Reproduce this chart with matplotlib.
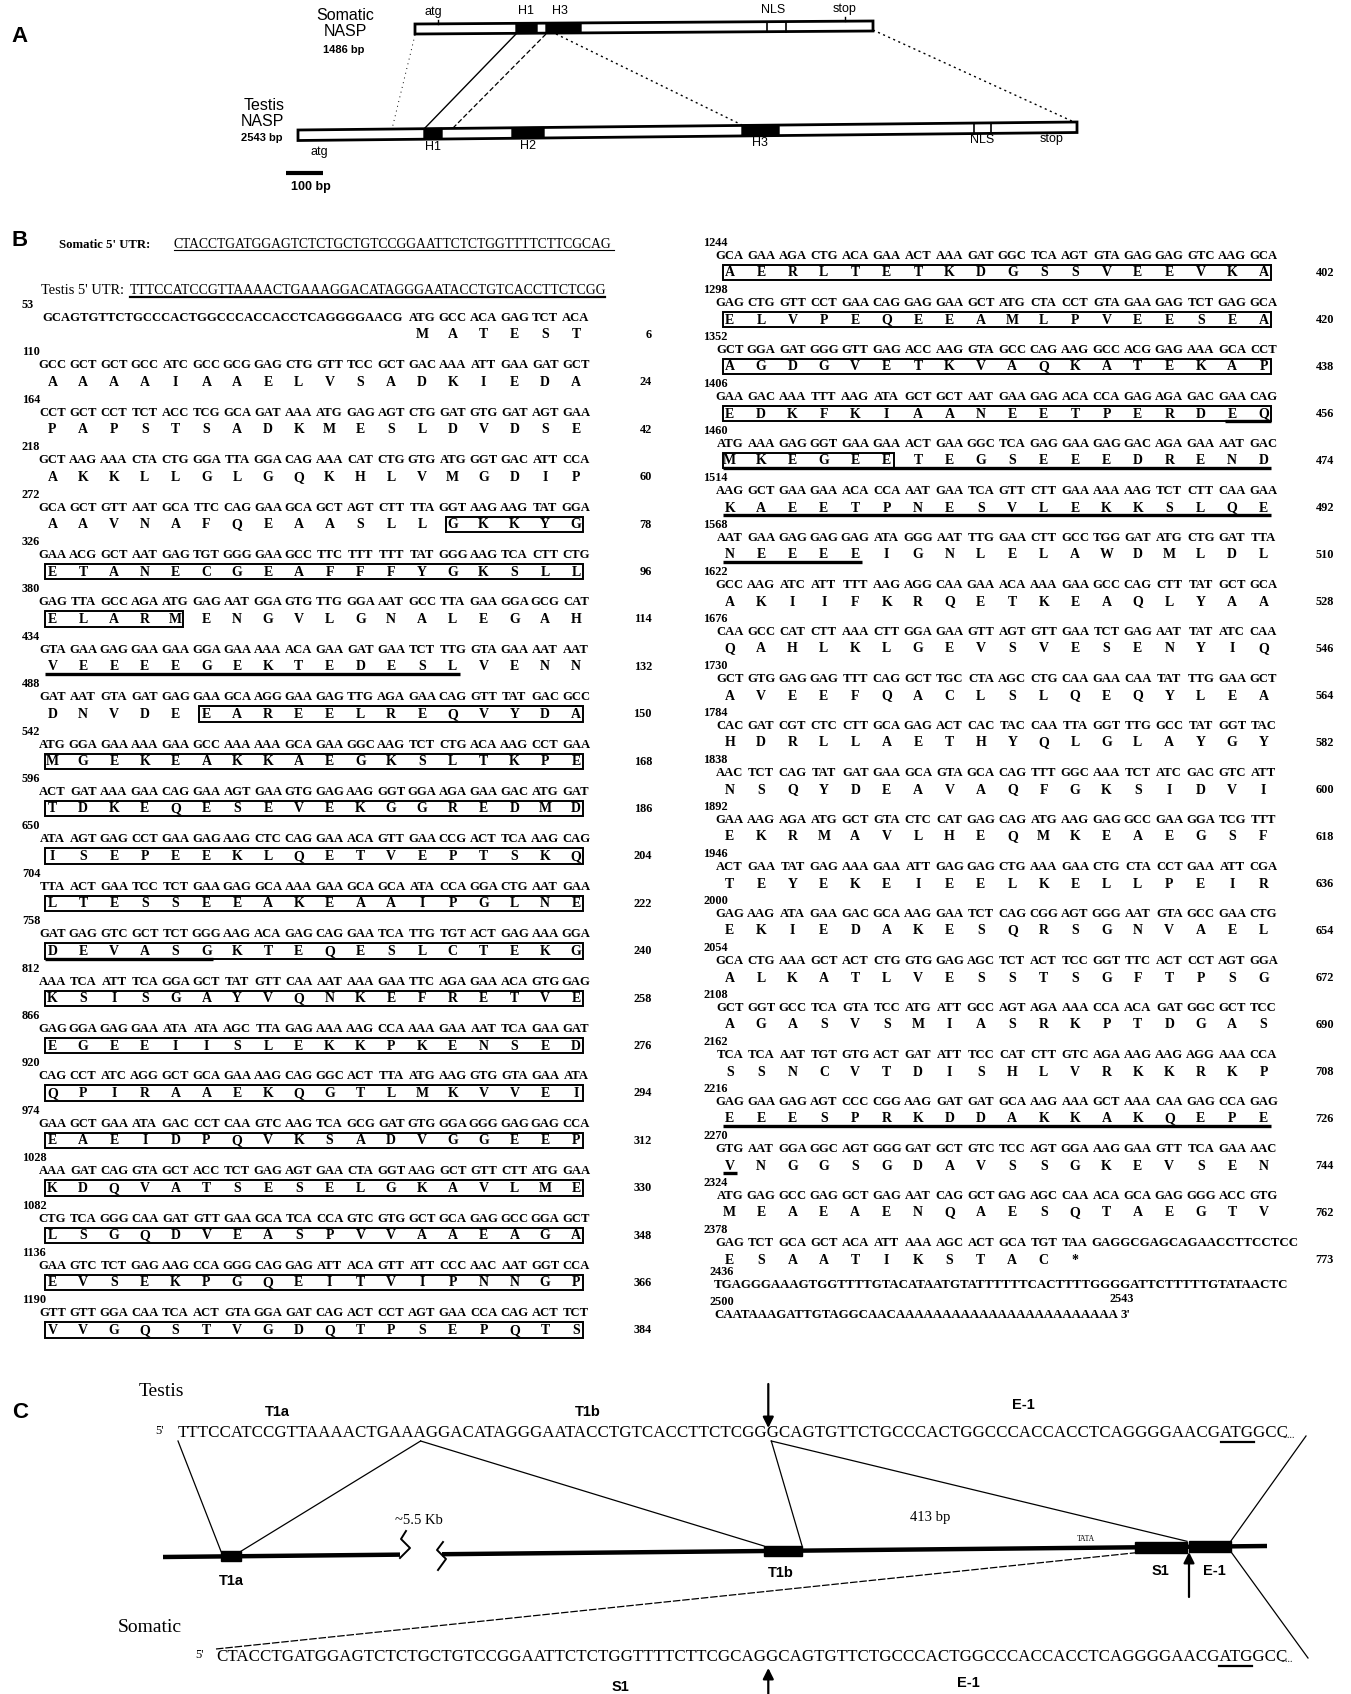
import matplotlib
matplotlib.use("Agg")
import matplotlib.pyplot as plt
from matplotlib.font_manager import FontProperties, fontManager
from matplotlib.patches import Polygon, Rectangle

# ------------------------------------------------------------------ data
somatic_utr = "CTACCTGATGGAGTCTCTGCTGTCCGGAATTCTCTGGTTTTCTTCGCAG"
testis_utr = "TTTCCATCCGTTAAAACTGAAAGGACATAGGGAATACCTGTCACCTTCTCGG"
lead_seq = "GCAGTGTTCTGCCCACTGGCCCACCACCTCAGGGGAACG"
start_codons = "ATGGCC"

first_label = 53
first_codons = "ATG GCC ACA GAG TCT ACA"
first_aa = "MATEST"
first_count = 6

row_starts = [110, 164, 218, 272, 326, 380, 434, 488, 542, 596, 650, 704, 758,
              812, 866, 920, 974, 1028, 1082, 1136, 1190,
              1244, 1298, 1352, 1406, 1460, 1514, 1568, 1622, 1676, 1730, 1784,
              1838, 1892, 1946, 2000, 2054, 2108, 2162, 2216, 2270, 2324, 2378]
codon_rows = [
    "GCC GCT GCT GCC ATC GCC GCG GAG CTG GTT TCC GCT GAC AAA ATT GAA GAT GCT",
    "CCT GCT CCT TCT ACC TCG GCA GAT AAA ATG GAG AGT CTG GAT GTG GAT AGT GAA",
    "GCT AAG AAA CTA CTG GGA TTA GGA CAG AAA CAT CTG GTG ATG GGT GAC ATT CCA",
    "GCA GCT GTT AAT GCA TTC CAG GAA GCA GCT AGT CTT TTA GGT AAG AAG TAT GGA",
    "GAA ACG GCT AAT GAG TGT GGG GAA GCC TTC TTT TTT TAT GGG AAG TCA CTT CTG",
    "GAG TTA GCC AGA ATG GAG AAT GGA GTG TTG GGA AAT GCC TTA GAA GGA GCG CAT",
    "GTA GAA GAG GAA GAA GGA GAA AAA ACA GAA GAT GAA TCT TTG GTA GAA AAT AAT",
    "GAT AAT GTA GAT GAG GAA GCA AGG GAA GAG TTG AGA GAA CAG GTT TAT GAC GCC",
    "ATG GGA GAA AAA GAA GCC AAA AAA GCA GAA GGC AAG TCT CTG ACA AAG CCT GAA",
    "ACT GAT AAA GAA CAG GAA AGT GAA GTG GAG AAG GGT GGA AGA GAA GAC ATG GAT",
    "ATA AGT GAG CCT GAA GAG AAG CTC CAG GAA ACA GTT GAA CCG ACT TCA AAG CAG",
    "TTA ACT GAA TCC TCT GAA GAG GCA AAA GAA GCA GCA ATA CCA GGA CTG AAT GAA",
    "GAT GAG GTC GCT TCT GGG AAG ACA GAG CAG GAA TCA TTG TGT ACT GAG AAA GGA",
    "AAA TCA ATT TCA GGA GCT TAT GTT CAA AAT AAA GAA TTC AGA GAA ACA GTG GAG",
    "GAG GGA GAG GAA ATA ATA AGC TTA GAG AAA AAG CCA AAA GAA AAT TCA GAA GAT",
    "CAG CCT ATC AGG GCT GCA GAA AAG CAG GGC ACT TTA ATG AAG GTG GTA GAA ATA",
    "GAA GCT GAA ATA GAC CCT CAA GTC AAG TCA GCG GAT GTG GGA GGG GAG GAG CCA",
    "AAA GAT CAG GTA GCT ACC TCT GAG AGT GAA CTA GGT AAG GCT GTT CTT ATG GAA",
    "CTG TCA GGG CAA GAT GTT GAA GCA TCA CCA GTC GTG GCT GCA GAG GCC GGA GCT",
    "GAA GTC TCT GAG AAG CCA GGG CAG GAG ATT ACA GTT ATT CCC AAC AAT GGT CCA",
    "GTT GTT GGA CAA TCA ACT GTA GGA GAT CAG ACT CCT AGT GAA CCA CAG ACT TCT",
    "GCA GAA AGA CTG ACA GAA ACT AAA GAT GGC TCA AGT GTA GAG GAG GTC AAG GCA",
    "GAG CTG GTT CCT GAA CAG GAG GAA GCT ATG CTA CCT GTA GAA GAG TCT GAG GCA",
    "GCT GGA GAT GGG GTT GAG ACC AAG GTA GCC CAG AAG GCC ACG GAG AAA GCA CCT",
    "GAA GAC AAA TTT AAG ATA GCT GCT AAT GAA GAG ACA CCA GAG AGA GAC GAA CAG",
    "ATG AAA GAG GGT GAA GAA ACT GAA GGC TCA GAG GAA GAG GAC AGA GAA AAT GAC",
    "AAG GCT GAA GAA ACA CCA AAT GAA TCA GTT CTT GAA AAA AAG TCT CTT CAA GAA",
    "AAT GAA GAG GAG GAG ATA GGG AAT TTG GAA CTT GCC TGG GAT ATG CTG GAT TTA",
    "GCC AAG ATC ATT TTT AAG AGG CAA GAA ACA AAA GAA GCC CAG CTT TAT GCT GCA",
    "CAA GCC CAT CTT AAA CTT GGA GAA GTT AGT GTT GAA TCT GAG AAT TAT ATC CAA",
    "GCT GTG GAG GAG TTT CAG GCT TGC CTA AGC CTG CAA GAA CAA TAT TTG GAA GCT",
    "CAC GAT CGT CTC CTT GCA GAG ACT CAC TAC CAA TTA GGT TTG GCC TAT GGT TAC",
    "AAC TCT CAG TAT GAT GAA GCA GTA GCA CAG TTT GGC AAA TCT ATC GAC GTC ATT",
    "GAA AAG AGA ATG GCT GTA CTC CAT GAG CAG ATG AAG GAG GCC GAA GGA TCG TTT",
    "ACT GAA TAT GAG AAA GAA ATT GAG GAG CTG AAA GAA CTG CTA CCT GAA ATT CGA",
    "GAG AAG ATA GAA GAC GCA AAG GAA TCT CAG CGG AGT GGG AAT GTA GCC GAA CTG",
    "GCA CTG AAA GCT ACT CTG GTG GAG AGC TCT ACT TCC GGT TTC ACT CCT AGT GGA",
    "GCT GGT GCC TCA GTA TCC ATG ATT GCC AGT AGA AAA CCA ACA GAT GGC GCT TCC",
    "TCA TCA AAT TGT GTG ACT GAT ATT TCC CAT CTT GTC AGA AAG AAG AGG AAA CCA",
    "GAG GAA GAG AGT CCC CGG AAG GAT GAT GCA AAG AAA GCT AAA CAA GAG CCA GAG",
    "GTG AAT GGA GGC AGT GGG GAT GCT GTC TCC AGT GGA AAG GAA GTT TCA GAA AAC",
    "ATG GAG GCC GAG GCT GAG AAT CAG GCT GAG AGC CAA ACA GCA GAG GGG ACC GTG",
    "GAG TCT GCA GCT ACA ATT AAA AGC ACT GCA TGT TAA",
]
aa_rows = [
    "AAAAIAAELVSADKIEDA", "PAPSTSADKMESLDVDSE", "AKKLLGLGQKHLVMGDIP",
    "AAVNAFQEAASLLGKKYG", "ETANECGEAFFFYGKSLL", "ELARMENGVLGNALEGAH",
    "VEEEEGEKTEDESLVENN", "DNVDEEAREELREQVYDA", "MGEKEAKKAEGKSLTKPE",
    "TDKEQESEVEKGGREDMD", "ISEPEEKLQETVEPTSKQ", "LTESSEEAKEAAIPGLNE",
    "DEVASGKTEQESLCTEKG", "KSISGAYVQNKEFRETVE", "EGEEIISLEKKPKENSED",
    "QPIRAAEKQGTLMKVVEI", "EAEIDPQVKSADVGGEEP", "KDQVATSESELGKAVLME",
    "LSGQDVEASPVVAAEAGA", "EVSEKPGQEITVIPNNGP", "VVGQSTVGDQTPSEPQTS",
    "AERLTETKDGSSVEEVKA", "ELVPEQEEAMLPVEESEA", "AGDGVETKVAQKATEKAP",
    "EDKFKIAANEETPERDEQ", "MKEGEETEGSEEEDREND", "KAEETPNESVLEKKSLQE",
    "NEEEEIGNLELAWDMLDL", "AKIIFKRQETKEAQLYAA", "QAHLKLGEVSVESENYIQ",
    "AVEEFQACLSLQEQYLEA", "HDRLLAETHYQLGLAYGY", "NSQYDEAVAQFGKSIDVI",
    "EKRMAVLHEQMKEAEGSF", "TEYEKEIEELKELLPEIR", "EKIEDAKESQRSGNVAEL",
    "ALKATLVESSTSGFTPSG", "AGASVSMIASRKPTDGAS", "SSNCVTDISHLVRKKRKP",
    "EEESPRKDDAKKAKQEPE", "VNGGSGDAVSSGKEVSEN", "MEAEAENQAESQTAEGTV",
    "ESAATIKSTAC*",
]
aa_counts = [24, 42, 60, 78, 96, 114, 132, 150, 168, 186, 204, 222, 240, 258,
             276, 294, 312, 330, 348, 366, 384, 402, 420, 438, 456, 474, 492,
             510, 528, 546, 564, 582, 600, 618, 636, 654, 672, 690, 708, 726,
             744, 762, 773]
stop_tail = "GAGGCGAGCAGAACCTTCCTCC"
utr3_starts = [2436, 2500]
utr3_rows = ["TGAGGGAAAGTGGTTTTGTACATAATGTATTTTTTCACTTTTGGGGATTCTTTTTGTATAACTC",
             "CAATAAAGATTGTAGGCAACAAAAAAAAAAAAAAAAAAAAAAAA"]
cdna_end = 2543

# boxed / underlined amino-acid stretches: (row index incl. first row, first col, last col)
box_spans = [(4, 13, 17), (5, 0, 17), (6, 0, 4), (8, 5, 17)] + \
            [(r, 0, 17) for r in range(9, 26)] + [(26, 0, 5)]
underline_spans = [(7, 0, 13), (13, 0, 5), (25, 16, 17), (26, 0, 17),
                   (27, 0, 17), (28, 0, 4), (40, 0, 17), (41, 0, 0)]

# ------------------------------------------------------------------ setup
W, H = 1351, 1694
fig = plt.figure(figsize=(W / 100, H / 100), dpi=100)
ax = fig.add_axes([0, 0, 1, 1])
ax.set_xlim(0, W)
ax.set_ylim(H, 0)
ax.axis("off")
renderer = fig.canvas.get_renderer()

names = {f.name for f in fontManager.ttflist}
SERIF = ["Liberation Serif", "DejaVu Serif"]
SANS = ["Liberation Sans", "DejaVu Sans"]
NARROW = (["Liberation Sans Narrow"] if "Liberation Sans Narrow" in names else []) + SANS


def twidth(s, size, family, weight="normal"):
    fp = FontProperties(family=family, weight=weight, size=size)
    return renderer.get_text_width_height_descent(s, fp, ismath=False)[0]


def fit(x, y, s, xr, family, weight="normal", va="center"):
    size = 10 * (xr - x) / twidth(s, 10, family, weight)
    ax.text(x, y, s, fontsize=size, family=family, weight=weight, va=va, ha="left")
    return size


def char_x(x, s, i, size, family, weight="normal"):
    return x if i == 0 else x + twidth(s[:i], size, family, weight)


def tilt_poly(x1, x2, xL, yL, slope, h, **kw):
    y1 = yL + slope * (x1 - xL)
    y2 = yL + slope * (x2 - xL)
    ax.add_patch(Polygon([(x1, y1), (x2, y2), (x2, y2 + h), (x1, y1 + h)], closed=True, **kw))


def lbl(x, y, s, size, family=SANS, weight="bold", ha="center", va="center"):
    ax.text(x, y, s, fontsize=size, family=family, weight=weight, ha=ha, va=va)


# ------------------------------------------------------------------ panel A
lbl(19, 36, "A", 16)
lbl(345, 15, "Somatic", 11.5, NARROW, "normal")
lbl(345, 32, "NASP", 11.5, NARROW, "normal")
lbl(344, 50, "1486 bp", 8, NARROW, "bold")
lbl(264, 105, "Testis", 11.5, NARROW, "normal")
lbl(262, 121, "NASP", 11.5, NARROW, "normal")
lbl(262, 138, "2543 bp", 8, NARROW, "bold")

sL, sY, sS, sH = 415, 24, -3 / 458, 10
tilt_poly(415, 873, sL, sY, sS, sH, facecolor="white", edgecolor="black", lw=2)
for x1, x2 in [(516, 537), (546, 581)]:
    tilt_poly(x1, x2, sL, sY, sS, sH, facecolor="black", edgecolor="black", lw=1)
for xv in (767, 786):
    yv = sY + sS * (xv - sL)
    ax.plot([xv, xv], [yv, yv + sH], color="black", lw=1.2)
for xv in (438, 845):
    yv = sY + sS * (xv - sL)
    ax.plot([xv, xv], [yv - 4, yv], color="black", lw=1)
for x, s in [(433, "atg"), (526, "H1"), (560, "H3"), (773, "NLS"), (845, "stop")]:
    lbl(x, 12 + sS * (x - sL), s, 9, NARROW, "normal")

tL, tY, tS, tH = 298, 130, -8 / 779, 10.5
tilt_poly(298, 1077, tL, tY, tS, tH, facecolor="white", edgecolor="black", lw=2)
for x1, x2 in [(424, 442), (512, 544), (742, 779)]:
    tilt_poly(x1, x2, tL, tY, tS, tH, facecolor="black", edgecolor="black", lw=1)
for xv in (974, 991):
    yv = tY + tS * (xv - tL)
    ax.plot([xv, xv], [yv, yv + tH], color="black", lw=1.2)
for x, s, dy in [(319, "atg", 22), (433, "H1", 18), (528, "H2", 18), (760, "H3", 18),
                 (982, "NLS", 17), (1052, "stop", 17)]:
    lbl(x, tY + tS * (x - tL) + dy, s, 9, NARROW, "normal")

# connecting lines
ax.plot([516, 424], [34, 129], color="black", lw=1)
ax.plot([546, 453], [34, 128], color="black", lw=0.9, ls=(0, (4, 2)))
ax.plot([556, 742], [34, 125], color="black", lw=1, ls=(0, (1.5, 2.5)))
ax.plot([873, 1074], [30, 122], color="black", lw=1, ls=(0, (1.5, 2.5)))
ax.plot([415, 392], [35, 129], color="black", lw=0.7, ls=(0, (1, 4)))
# scale bar
ax.plot([286, 323], [173, 173], color="black", lw=3, solid_capstyle="butt")
lbl(311, 187, "100 bp", 9, NARROW, "bold")

# ------------------------------------------------------------------ panel B
lbl(20, 240, "B", 16)
fit(59, 245, "Somatic 5' UTR:", 150, SERIF, "bold")
fit(174, 244, somatic_utr, 614, SERIF, "normal")
ax.plot([174, 614], [250.5, 250.5], color="black", lw=0.8)
fit(41, 291, "Testis 5' UTR:", 124, SERIF, "normal")
fit(130, 290, testis_utr, 605, SERIF, "normal")
ax.plot([130, 605], [297.5, 297.5], color="black", lw=1.6)

COL = [dict(x0=37, p=30.8, y0=305, dy=47.4, lx=22, nx=652),
       dict(x0=714, p=31.4, y0=243, dy=47.0, lx=703, nx=1334)]

all_labels = [first_label] + row_starts
all_codons = [first_codons] + codon_rows
all_aa = [first_aa] + aa_rows
all_counts = [first_count] + aa_counts

# codon font sized so codons nearly touch, as in the scan
cods = " ".join(all_codons).split()
avg_w = sum(twidth(cd, 10, SERIF, "bold") for cd in cods) / len(cods)
CS = 10 * (COL[0]["p"] - 3.5) / avg_w
AS, NS = 10, 8.8


def geom(r):
    c = COL[0] if r < 22 else COL[1]
    k = r if r < 22 else r - 22
    yl = c["y0"] + k * c["dy"]
    return c, yl


def cx(c, j):
    return c["x0"] + (j + 0.5) * c["p"]


for r, (lab, cod, aa, cnt) in enumerate(zip(all_labels, all_codons, all_aa, all_counts)):
    c, yl = geom(r)
    ax.text(c["lx"], yl, str(lab), fontsize=NS, family=SERIF, weight="bold", ha="left", va="center")
    off = 12 if r == 0 else 0
    if r == 0:
        fit(c["x0"] + 5, yl + 13, lead_seq, c["x0"] + 12 * c["p"] - 5, SERIF, "bold")
    for j, cd in enumerate(cod.split()):
        ax.text(cx(c, j + off), yl + 13, cd, fontsize=CS, family=SERIF, weight="bold",
                ha="center", va="center")
    for j, a in enumerate(aa):
        ax.text(cx(c, j + off), yl + 30, a, fontsize=AS, family=SERIF, weight="bold",
                ha="center", va="center")
    ax.text(c["nx"], yl + 30, str(cnt), fontsize=NS, family=SERIF, weight="bold",
            ha="right", va="center")
    if r == len(all_labels) - 1:
        fit(c["x0"] + 12 * c["p"] + 1, yl + 13, stop_tail, 1298, SERIF, "bold")

for r, j1, j2 in box_spans:
    c, yl = geom(r)
    x1, x2 = cx(c, j1) - 7, cx(c, j2) + 7
    ax.add_patch(Rectangle((x1, yl + 22), x2 - x1, 15.5, fill=False, edgecolor="black", lw=1.4))
for r, j1, j2 in underline_spans:
    c, yl = geom(r)
    x1, x2 = cx(c, j1) - 7, cx(c, j2) + 7
    ax.plot([x1, x2], [yl + 37.5, yl + 37.5], color="black", lw=2.4, solid_capstyle="butt")

# 3' UTR lines
u_y = [1272, 1302]
usize = fit(714, u_y[0] + 13, utr3_rows[0], 1286, SERIF, "bold")
for lab, yy in zip(utr3_starts, u_y):
    ax.text(COL[1]["lx"] + 6, yy, str(lab), fontsize=NS, family=SERIF, weight="bold",
            ha="left", va="center")
ax.text(714, u_y[1] + 13, utr3_rows[1], fontsize=usize, family=SERIF, weight="bold",
        ha="left", va="center")
xend = 714 + twidth(utr3_rows[1], usize, SERIF, "bold")
ax.text(xend + 3, u_y[1] + 13, "3'", fontsize=usize, family=SERIF, weight="bold",
        ha="left", va="center")
ax.text(xend + 4, u_y[1] - 3, str(cdna_end), fontsize=NS, family=SERIF, weight="bold",
        ha="center", va="center")

# ------------------------------------------------------------------ panel C
lbl(20, 1412, "C", 16)
lbl(161, 1391, "Testis", 14, SERIF, "normal")
lbl(150, 1627, "Somatic", 14, SERIF, "normal")
lbl(277, 1412, "T1a", 10.5)
lbl(588, 1412, "T1b", 10.5)
lbl(1023, 1405, "E-1", 10.5)

ty, sy = 1433, 1657
tseq = testis_utr + lead_seq + start_codons
sseq = somatic_utr + lead_seq + start_codons
tx0, sx0 = 178, 216
tfs = fit(tx0, ty, tseq, 1280, SERIF, "normal")
sfs = fit(sx0, sy, sseq, 1278, SERIF, "normal")
lbl(160, ty - 2, "5'", 9, SERIF, "normal")
lbl(200, sy - 2, "5'", 9, SERIF, "normal")
ax.text(1282, ty + 2, ".....", fontsize=7, family=SERIF, ha="left", va="center")
ax.text(1280, sy + 2, ".....", fontsize=7, family=SERIF, ha="left", va="center")
# ATG underlines
for x0, seq, fs, yy in [(tx0, tseq, tfs, ty), (sx0, sseq, sfs, sy)]:
    i = len(seq) - 6
    ax.plot([char_x(x0, seq, i, fs, SERIF), char_x(x0, seq, i + 3, fs, SERIF)],
            [yy + 9, yy + 9], color="black", lw=1.6)


# genomic line
def gy(x):
    return 1557 - 0.00996 * (x - 163)


ax.plot([163, 400], [gy(163), gy(400)], color="black", lw=3.2, solid_capstyle="butt")
ax.plot([442, 1267], [gy(442), gy(1267)], color="black", lw=3.2, solid_capstyle="butt")
ax.plot([406, 401, 410, 400], [1531, 1539, 1548, 1558], color="black", lw=1.4)
ax.plot([443, 437, 446, 438], [1542, 1550, 1559, 1570], color="black", lw=1.4)
for x1, x2, h in [(221, 241, 10), (764, 802, 10), (1135, 1187, 11), (1189, 1231, 11)]:
    yc = gy((x1 + x2) / 2)
    ax.add_patch(Rectangle((x1, yc - h / 2), x2 - x1, h, facecolor="black", edgecolor="black"))
lbl(231, 1581, "T1a", 10.5)
lbl(781, 1573, "T1b", 10.5)
lbl(1160, 1571, "S1", 10.5)
lbl(1214, 1571, "E-1", 10.5)
lbl(419, 1521, "~5.5 Kb", 10.5, SERIF, "normal")
lbl(930, 1518, "413 bp", 10.5, SERIF, "normal")
lbl(1086, 1539, "TATA", 5.5, SERIF, "normal")

# junction points on the sequences
ytb = ty + 8
j1 = char_x(tx0, tseq, 21, tfs, SERIF) + 0.5 * twidth("A", tfs, SERIF)
j2 = char_x(tx0, tseq, 52, tfs, SERIF) + 0.3 * twidth("G", tfs, SERIF)
kw = dict(color="black", lw=0.9)
ax.plot([tx0, 221], [ytb, gy(221) - 5], **kw)
ax.plot([j1, 241], [ytb, gy(241) - 5], **kw)
ax.plot([j1, 764], [ytb, gy(764) - 5], **kw)
ax.plot([j2, 802], [ytb, gy(802) - 5], **kw)
ax.plot([j2, 1187], [ytb, gy(1187) - 5.5], **kw)
ax.plot([1306, 1231], [ty + 3, gy(1231) - 5.5], **kw)
ax.plot([sx0, 1135], [sy - 8, gy(1135) + 5.5], color="black", lw=0.9, ls=(0, (6, 1.5)))
ax.plot([1231, 1308], [gy(1231) + 5.5, sy + 1], **kw)

# arrows
ap = dict(arrowstyle="-|>", color="black", lw=1.6, mutation_scale=16, shrinkA=0, shrinkB=0)
ax.annotate("", xy=(j2 - 3, 1428), xytext=(j2 - 3, 1384), arrowprops=ap)
ax.annotate("", xy=(1189, 1552), xytext=(1189, 1597), arrowprops=ap)
ax.annotate("", xy=(j2 - 3, 1668), xytext=(j2 - 3, 1694), arrowprops=ap)
lbl(620, 1687, "S1", 10.5)
lbl(968, 1683, "E-1", 10.5)

fig.savefig("out.png", dpi=100, facecolor="white")
